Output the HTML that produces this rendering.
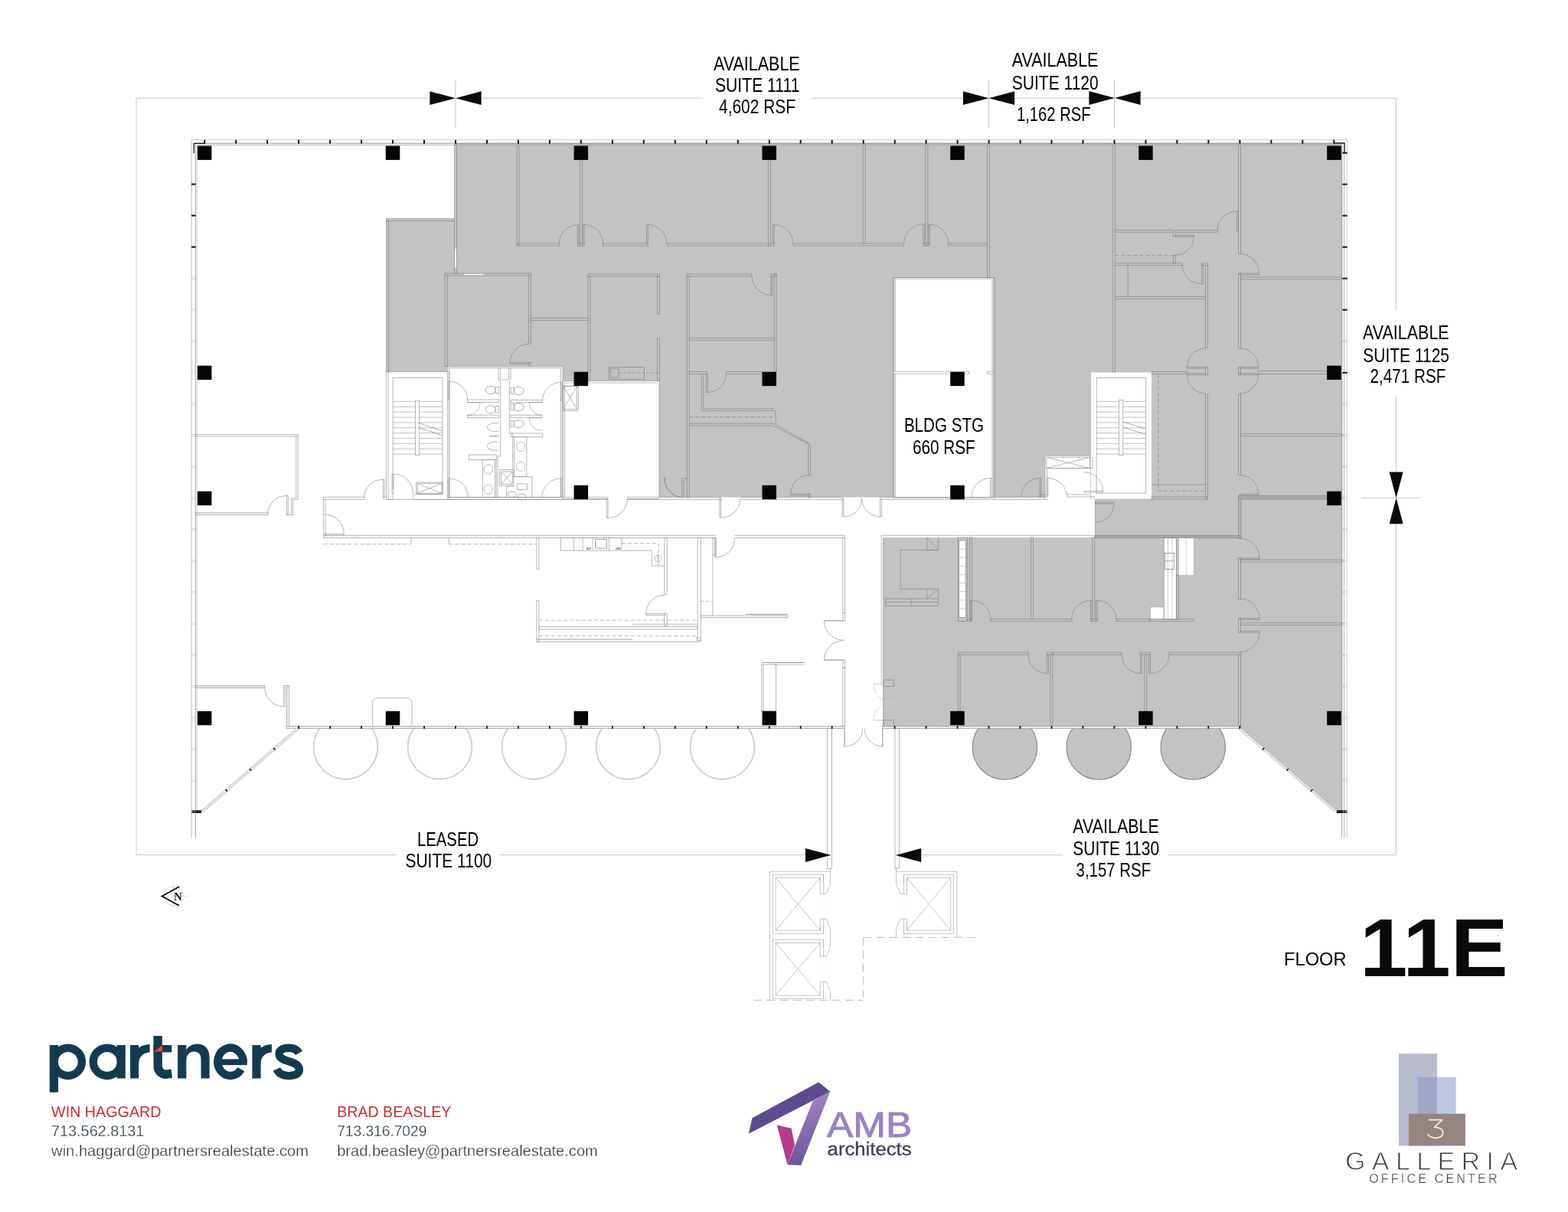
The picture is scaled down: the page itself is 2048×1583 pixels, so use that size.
<!DOCTYPE html>
<html><head><meta charset="utf-8"><title>Floor 11E</title>
<style>
html,body{margin:0;padding:0;background:#fff;}
body{width:2048px;height:1583px;overflow:hidden;font-family:"Liberation Sans",sans-serif;}
svg{display:block;}
</style></head><body>
<svg width="2048" height="1583" viewBox="0 0 2048 1583">
<rect width="2048" height="1583" fill="#fff"/>
<clipPath id="ca"><rect x="0" y="0" width="2048" height="948.5"/></clipPath>
<g opacity="0.999">
<path d="M594 186.8L1753.2 186.8L1753.2 1058.4L1745 1058.4L1619.2 949.4L1153.8 949.4L1153.8 702L1430.5 702L1430.5 652L1504.6 652L1504.6 486L1424.7 486L1424.7 595.2L1365 595.2L1365 649.5L1296.5 649.5L1296.5 363.6L1168.6 363.6L1168.6 649.5L861 649.5L861 497.4L734.7 497.4L734.7 478.8L584 478.8L584 485.6L505 485.6L505 286L594 286Z" stroke="none" stroke-width="0" fill="#c3c3c3"/>
<clipPath id="cb"><rect x="0" y="950.5" width="2048" height="200"/></clipPath>
<circle cx="1312.4" cy="975.9" r="42.2" fill="#c3c3c3" stroke="#8a8a8a" stroke-width="1.2" clip-path="url(#cb)"/>
<circle cx="1435.3" cy="975.9" r="42.2" fill="#c3c3c3" stroke="#8a8a8a" stroke-width="1.2" clip-path="url(#cb)"/>
<circle cx="1558.3" cy="975.9" r="42.2" fill="#c3c3c3" stroke="#8a8a8a" stroke-width="1.2" clip-path="url(#cb)"/>
<circle cx="451.4" cy="975.8" r="41.9" fill="none" stroke="#d0d0d0" stroke-width="1.9" clip-path="url(#cb)"/>
<circle cx="574.5" cy="975.8" r="41.9" fill="none" stroke="#d0d0d0" stroke-width="1.9" clip-path="url(#cb)"/>
<circle cx="697.5" cy="975.8" r="41.9" fill="none" stroke="#d0d0d0" stroke-width="1.9" clip-path="url(#cb)"/>
<circle cx="820.5" cy="975.8" r="41.9" fill="none" stroke="#d0d0d0" stroke-width="1.9" clip-path="url(#cb)"/>
<circle cx="943.5" cy="975.8" r="41.9" fill="none" stroke="#d0d0d0" stroke-width="1.9" clip-path="url(#cb)"/>
<rect x="1252.6" y="706" width="8.8" height="100.5" fill="#fff"/>
<rect x="1520.1" y="702.7" width="16.3" height="106.3" fill="#fff"/>
<rect x="1539.3" y="702.7" width="20" height="49" fill="#fff"/>
<rect x="1502.5" y="792.8" width="17.6" height="16.2" fill="#fff"/>
<rect x="593.8" y="324.8" width="2.6" height="24.5" fill="#fff"/>
<rect x="606.5" y="357.4" width="24.9" height="2.4" fill="#fff"/>
<rect x="504.5" y="485.7" width="82.3" height="166.7" fill="none" stroke="#989898" stroke-width="0.7"/>
<path d="M507.2 485.7L507.2 652.4" stroke="#989898" stroke-width="0.7" fill="none"/>
<rect x="513.1" y="493.3" width="64.9" height="152" fill="none" stroke="#989898" stroke-width="0.7"/>
<path d="M513.1 524.4L542.6 524.4" stroke="#989898" stroke-width="0.6" fill="none"/>
<path d="M547.7 524.4L578 524.4" stroke="#989898" stroke-width="0.6" fill="none"/>
<path d="M513.1 531.3L542.6 531.3" stroke="#989898" stroke-width="0.6" fill="none"/>
<path d="M547.7 531.3L578 531.3" stroke="#989898" stroke-width="0.6" fill="none"/>
<path d="M513.1 538.1L542.6 538.1" stroke="#989898" stroke-width="0.6" fill="none"/>
<path d="M547.7 538.1L578 538.1" stroke="#989898" stroke-width="0.6" fill="none"/>
<path d="M513.1 545L542.6 545" stroke="#989898" stroke-width="0.6" fill="none"/>
<path d="M547.7 545L578 545" stroke="#989898" stroke-width="0.6" fill="none"/>
<path d="M513.1 551.9L542.6 551.9" stroke="#989898" stroke-width="0.6" fill="none"/>
<path d="M547.7 551.9L578 551.9" stroke="#989898" stroke-width="0.6" fill="none"/>
<path d="M513.1 558.8L542.6 558.8" stroke="#989898" stroke-width="0.6" fill="none"/>
<path d="M547.7 558.8L578 558.8" stroke="#989898" stroke-width="0.6" fill="none"/>
<path d="M513.1 565.6L542.6 565.6" stroke="#989898" stroke-width="0.6" fill="none"/>
<path d="M547.7 565.6L578 565.6" stroke="#989898" stroke-width="0.6" fill="none"/>
<path d="M513.1 572.5L542.6 572.5" stroke="#989898" stroke-width="0.6" fill="none"/>
<path d="M547.7 572.5L578 572.5" stroke="#989898" stroke-width="0.6" fill="none"/>
<path d="M513.1 579.4L542.6 579.4" stroke="#989898" stroke-width="0.6" fill="none"/>
<path d="M547.7 579.4L578 579.4" stroke="#989898" stroke-width="0.6" fill="none"/>
<path d="M513.1 586.2L542.6 586.2" stroke="#989898" stroke-width="0.6" fill="none"/>
<path d="M547.7 586.2L578 586.2" stroke="#989898" stroke-width="0.6" fill="none"/>
<path d="M513.1 593.1L542.6 593.1" stroke="#989898" stroke-width="0.6" fill="none"/>
<path d="M547.7 593.1L578 593.1" stroke="#989898" stroke-width="0.6" fill="none"/>
<rect x="542.6" y="523.2" width="5.1" height="71.4" fill="#fff" stroke="#989898" stroke-width="0.7"/>
<path d="M545.7 551.9L578 562.9" stroke="#989898" stroke-width="0.8" fill="none"/>
<path d="M545.7 558L578 569" stroke="#989898" stroke-width="0.8" fill="none"/>
<rect x="545" y="631.5" width="32" height="12.7" fill="none" stroke="#989898" stroke-width="0.7"/>
<path d="M545 631.5L577 644.2" stroke="#989898" stroke-width="0.7" fill="none"/>
<path d="M545 644.2L577 631.5" stroke="#989898" stroke-width="0.7" fill="none"/>
<rect x="543.8" y="630" width="34.2" height="15.3" fill="none" stroke="#989898" stroke-width="0.7"/>
<rect x="512" y="640" width="29" height="13.2" fill="#fff"/>
<path d="M513.8 644.7L513.8 619.1L512 619.1L512 644.7Z" stroke="#989898" stroke-width="0.7" fill="none"/>
<path d="M513.8 619.1A25.6 25.6 0 0 1 539.4 644.7" stroke="#989898" stroke-width="0.7" fill="none"/>
<path d="M513.1 644.7L513.1 652.4" stroke="#989898" stroke-width="0.7" fill="none"/>
<path d="M539.6 645.3L539.6 652.4" stroke="#989898" stroke-width="0.7" fill="none"/>
<rect x="584.7" y="478.7" width="150.5" height="173.7" fill="none" stroke="#989898" stroke-width="0.7"/>
<rect x="586.8" y="480.5" width="145.6" height="169.1" fill="none" stroke="#989898" stroke-width="0.7"/>
<path d="M651.2 480.5L651.2 497L653.7 498.8L653.7 595.8L650 595.8L650 649.6" stroke="#989898" stroke-width="0.7" fill="none"/>
<path d="M667.1 480.5L667.1 497L665.3 498.8L665.3 566L669.6 566L669.6 613.5" stroke="#989898" stroke-width="0.7" fill="none"/>
<path d="M653.7 480.5L653.7 496L664.7 496L664.7 480.5" stroke="#989898" stroke-width="0.7" fill="none"/>
<path d="M648.2 600.7L648.2 649.6" stroke="#989898" stroke-width="0.7" fill="none"/>
<ellipse cx="640.9" cy="509.4" rx="6.7" ry="5.1" fill="none" stroke="#8a8a8a" stroke-width="0.7"/>
<rect x="647" y="505.2" width="4.2" height="8.4" fill="none" stroke="#989898" stroke-width="0.7"/>
<ellipse cx="640.9" cy="534.8" rx="6.7" ry="5.1" fill="none" stroke="#8a8a8a" stroke-width="0.7"/>
<rect x="647" y="530.6" width="4.2" height="8.4" fill="none" stroke="#989898" stroke-width="0.7"/>
<ellipse cx="677.5" cy="510.4" rx="6.7" ry="5.1" fill="none" stroke="#8a8a8a" stroke-width="0.7"/>
<rect x="667.1" y="506.2" width="4.1" height="8.4" fill="none" stroke="#989898" stroke-width="0.7"/>
<ellipse cx="677.5" cy="531.8" rx="6.7" ry="5.1" fill="none" stroke="#8a8a8a" stroke-width="0.7"/>
<rect x="667.1" y="527.6" width="4.1" height="8.4" fill="none" stroke="#989898" stroke-width="0.7"/>
<ellipse cx="677.5" cy="553.7" rx="6.7" ry="5.1" fill="none" stroke="#8a8a8a" stroke-width="0.7"/>
<rect x="667.1" y="549.5" width="4.1" height="8.4" fill="none" stroke="#989898" stroke-width="0.7"/>
<path d="M651.2 552.5 H646 C640 552.5 636.5 555.5 636.5 558 C636.5 560.5 640 563.5 646 563.5 H651.2" fill="none" stroke="#989898" stroke-width="0.7"/>
<path d="M651.2 577.2 H646 C640 577.2 636.5 580.2 636.5 582.7 C636.5 585.2 640 588.2 646 588.2 H651.2" fill="none" stroke="#989898" stroke-width="0.7"/>
<path d="M639 569.6L651.2 569.6" stroke="#989898" stroke-width="1.1" fill="none"/>
<rect x="610.4" y="522" width="40.8" height="3.6" fill="none" stroke="#989898" stroke-width="0.7"/>
<rect x="610.4" y="542.1" width="40.8" height="3.6" fill="none" stroke="#989898" stroke-width="0.7"/>
<rect x="667.1" y="522.6" width="40.9" height="3.2" fill="none" stroke="#989898" stroke-width="0.7"/>
<rect x="667.1" y="542.1" width="40.9" height="3.2" fill="none" stroke="#989898" stroke-width="0.7"/>
<rect x="667.1" y="566" width="41.5" height="4.8" fill="none" stroke="#989898" stroke-width="0.7"/>
<path d="M610.4 525.7L627.2 525.7L627.2 525.7L610.4 525.7Z" stroke="#989898" stroke-width="0.6" fill="none"/>
<path d="M627.2 525.7A16.8 16.8 0 0 1 610.4 542.5" stroke="#989898" stroke-width="0.6" fill="none"/>
<path d="M708 525.5L691.2 525.5L691.2 525.5L708 525.5Z" stroke="#989898" stroke-width="0.6" fill="none"/>
<path d="M691.2 525.5A16.8 16.8 0 0 0 708 542.3" stroke="#989898" stroke-width="0.6" fill="none"/>
<path d="M708 545.6L691.2 545.6L691.2 545.6L708 545.6Z" stroke="#989898" stroke-width="0.6" fill="none"/>
<path d="M691.2 545.6A16.8 16.8 0 0 0 708 562.4" stroke="#989898" stroke-width="0.6" fill="none"/>
<rect x="612.2" y="594" width="36" height="6.7" fill="none" stroke="#989898" stroke-width="0.7"/>
<rect x="630.3" y="600.7" width="16.1" height="48.9" fill="none" stroke="#989898" stroke-width="0.7"/>
<ellipse cx="637.8" cy="612.9" rx="5.7" ry="6.2" fill="none" stroke="#8a8a8a" stroke-width="0.6"/>
<ellipse cx="637.8" cy="639.2" rx="5.7" ry="6.2" fill="none" stroke="#8a8a8a" stroke-width="0.6"/>
<rect x="671.4" y="570.8" width="16.5" height="51.9" fill="none" stroke="#989898" stroke-width="0.7"/>
<ellipse cx="680.2" cy="583.4" rx="5.6" ry="6.3" fill="none" stroke="#8a8a8a" stroke-width="0.6"/>
<ellipse cx="680.2" cy="609.3" rx="5.6" ry="6.3" fill="none" stroke="#8a8a8a" stroke-width="0.6"/>
<rect x="652.5" y="613.5" width="18.3" height="21.4" fill="none" stroke="#989898" stroke-width="0.7"/>
<rect x="654.7" y="616" width="14.6" height="16.5" fill="none" stroke="#989898" stroke-width="0.7"/>
<path d="M654.7 616L669.3 632.5" stroke="#989898" stroke-width="0.7" fill="none"/>
<path d="M654.7 632.5L669.3 616" stroke="#989898" stroke-width="0.7" fill="none"/>
<path d="M671.4 622.7L695 622.7L695 649.6" stroke="#989898" stroke-width="0.7" fill="none"/>
<path d="M670.8 634.9L661.5 634.9L661.5 649.6" stroke="#989898" stroke-width="0.7" fill="none"/>
<rect x="675.7" y="631.9" width="12.8" height="7.9" fill="none" stroke="#989898" stroke-width="0.7"/>
<ellipse cx="668.9" cy="645.7" rx="5.6" ry="3.9" fill="none" stroke="#8a8a8a" stroke-width="0.7"/>
<ellipse cx="681.8" cy="649" rx="5.6" ry="3.9" fill="none" stroke="#8a8a8a" stroke-width="0.7"/>
<path d="M586.8 522L586.8 498.2L585 498.2L585 522Z" stroke="#989898" stroke-width="0.7" fill="none"/>
<path d="M586.8 498.2A23.8 23.8 0 0 1 610.6 522" stroke="#989898" stroke-width="0.7" fill="none"/>
<path d="M732.4 523.2L732.4 499.4L734.2 499.4L734.2 523.2Z" stroke="#989898" stroke-width="0.7" fill="none"/>
<path d="M732.4 499.4A23.8 23.8 0 0 0 708.6 523.2" stroke="#989898" stroke-width="0.7" fill="none"/>
<path d="M586.8 649.6L586.8 625L585 625L585 649.6Z" stroke="#989898" stroke-width="0.7" fill="none"/>
<path d="M586.8 625A24.6 24.6 0 0 1 611.4 649.6" stroke="#989898" stroke-width="0.7" fill="none"/>
<path d="M732.4 649.6L732.4 625L734.2 625L734.2 649.6Z" stroke="#989898" stroke-width="0.7" fill="none"/>
<path d="M732.4 625A24.6 24.6 0 0 0 707.8 649.6" stroke="#989898" stroke-width="0.7" fill="none"/>
<rect x="734.7" y="497.4" width="126.3" height="154.2" fill="none" stroke="#989898" stroke-width="0.7"/>
<path d="M737.5 500L858.5 500" stroke="#989898" stroke-width="0.7" fill="none"/>
<path d="M737.5 500L737.5 649" stroke="#989898" stroke-width="0.7" fill="none"/>
<rect x="735.7" y="504.2" width="17.8" height="30.3" fill="none" stroke="#989898" stroke-width="0.7"/>
<path d="M735.7 504.2L753.5 534.5" stroke="#989898" stroke-width="0.7" fill="none"/>
<path d="M735.7 534.5L753.5 504.2" stroke="#989898" stroke-width="0.7" fill="none"/>
<rect x="735.7" y="504.2" width="19.6" height="32.3" fill="none" stroke="#989898" stroke-width="0.7"/>
<rect x="794" y="649" width="25" height="4" fill="#fff"/>
<path d="M794 651L794 676.5L792.2 676.5L792.2 651Z" stroke="#989898" stroke-width="0.7" fill="none"/>
<path d="M794 676.5A25.5 25.5 0 0 0 819.5 651" stroke="#989898" stroke-width="0.7" fill="none"/>
<path d="M868 624.6A26 26 0 0 0 890 650" stroke="#858585" stroke-width="0.7" fill="none"/>
<path d="M422.4 649.2L476.4 649.2" stroke="#989898" stroke-width="0.7" fill="none"/>
<path d="M422.4 652.4L476.4 652.4" stroke="#989898" stroke-width="0.7" fill="none"/>
<path d="M500.3 649.2L504.7 649.2" stroke="#989898" stroke-width="0.7" fill="none"/>
<path d="M500.3 651.2L500.3 626.2L502.1 626.2L502.1 651.2Z" stroke="#989898" stroke-width="0.7" fill="none"/>
<path d="M500.3 626.2A25 25 0 0 0 475.3 651.2" stroke="#989898" stroke-width="0.7" fill="none"/>
<path d="M422.4 649.2L422.4 703" stroke="#989898" stroke-width="0.7" fill="none"/>
<path d="M425 652.4L425 700" stroke="#989898" stroke-width="0.7" fill="none"/>
<path d="M423.9 697.2L449.2 697.2L449.2 699L423.9 699Z" stroke="#989898" stroke-width="0.7" fill="none"/>
<path d="M449.2 697.2A25.3 25.3 0 0 0 423.9 671.9" stroke="#989898" stroke-width="0.7" fill="none"/>
<path d="M586 649.4L794 649.4" stroke="#989898" stroke-width="0.7" fill="none"/>
<path d="M819 649.4L941.7 649.4" stroke="#989898" stroke-width="0.7" fill="none"/>
<path d="M966.5 649.4L1101.8 649.4" stroke="#989898" stroke-width="0.7" fill="none"/>
<path d="M1149.6 649.4L1293.5 649.4" stroke="#989898" stroke-width="0.7" fill="none"/>
<path d="M1299 649.4L1358 649.4" stroke="#989898" stroke-width="0.7" fill="none"/>
<path d="M504.7 652.4L794 652.4" stroke="#989898" stroke-width="0.7" fill="none"/>
<path d="M819 652.4L941.7 652.4" stroke="#989898" stroke-width="0.7" fill="none"/>
<path d="M966.5 652.4L1101.8 652.4" stroke="#989898" stroke-width="0.7" fill="none"/>
<path d="M1149.6 652.4L1368.9 652.4" stroke="#989898" stroke-width="0.7" fill="none"/>
<path d="M941.7 651L941.7 676.2L939.9 676.2L939.9 651Z" stroke="#989898" stroke-width="0.7" fill="none"/>
<path d="M941.7 676.2A25.2 25.2 0 0 0 966.9 651" stroke="#989898" stroke-width="0.7" fill="none"/>
<path d="M1101.8 651L1101.8 675L1100 675L1100 651Z" stroke="#989898" stroke-width="0.7" fill="none"/>
<path d="M1101.8 675A24 24 0 0 0 1125.8 651" stroke="#989898" stroke-width="0.7" fill="none"/>
<path d="M1149.6 651L1149.6 675L1151.4 675L1151.4 651Z" stroke="#989898" stroke-width="0.7" fill="none"/>
<path d="M1149.6 675A24 24 0 0 1 1125.6 651" stroke="#989898" stroke-width="0.7" fill="none"/>
<path d="M422.4 699.2L934.8 699.2" stroke="#989898" stroke-width="0.7" fill="none"/>
<path d="M422.4 702.5L934.8 702.5" stroke="#989898" stroke-width="0.7" fill="none"/>
<path d="M959.3 699.2L1103.2 699.2" stroke="#989898" stroke-width="0.7" fill="none"/>
<path d="M959.3 702.5L1103.2 702.5" stroke="#989898" stroke-width="0.7" fill="none"/>
<path d="M1103.2 699.2L1103.2 702.5" stroke="#989898" stroke-width="0.7" fill="none"/>
<path d="M1293.5 649L1293.5 624.5L1295.3 624.5L1295.3 649Z" stroke="#989898" stroke-width="0.7" fill="none"/>
<path d="M1293.5 624.5A24.5 24.5 0 0 0 1269 649" stroke="#989898" stroke-width="0.7" fill="none"/>
<rect x="1424.7" y="486" width="79.9" height="166" fill="none" stroke="#bbb" stroke-width="0.7"/>
<rect x="1432.1" y="493.4" width="64.6" height="150.7" fill="none" stroke="#989898" stroke-width="0.7"/>
<path d="M1432.1 524.4L1461.5 524.4" stroke="#989898" stroke-width="0.6" fill="none"/>
<path d="M1466.8 524.4L1496.7 524.4" stroke="#989898" stroke-width="0.6" fill="none"/>
<path d="M1432.1 531.3L1461.5 531.3" stroke="#989898" stroke-width="0.6" fill="none"/>
<path d="M1466.8 531.3L1496.7 531.3" stroke="#989898" stroke-width="0.6" fill="none"/>
<path d="M1432.1 538.1L1461.5 538.1" stroke="#989898" stroke-width="0.6" fill="none"/>
<path d="M1466.8 538.1L1496.7 538.1" stroke="#989898" stroke-width="0.6" fill="none"/>
<path d="M1432.1 545L1461.5 545" stroke="#989898" stroke-width="0.6" fill="none"/>
<path d="M1466.8 545L1496.7 545" stroke="#989898" stroke-width="0.6" fill="none"/>
<path d="M1432.1 551.9L1461.5 551.9" stroke="#989898" stroke-width="0.6" fill="none"/>
<path d="M1466.8 551.9L1496.7 551.9" stroke="#989898" stroke-width="0.6" fill="none"/>
<path d="M1432.1 558.8L1461.5 558.8" stroke="#989898" stroke-width="0.6" fill="none"/>
<path d="M1466.8 558.8L1496.7 558.8" stroke="#989898" stroke-width="0.6" fill="none"/>
<path d="M1432.1 565.6L1461.5 565.6" stroke="#989898" stroke-width="0.6" fill="none"/>
<path d="M1466.8 565.6L1496.7 565.6" stroke="#989898" stroke-width="0.6" fill="none"/>
<path d="M1432.1 572.5L1461.5 572.5" stroke="#989898" stroke-width="0.6" fill="none"/>
<path d="M1466.8 572.5L1496.7 572.5" stroke="#989898" stroke-width="0.6" fill="none"/>
<path d="M1432.1 579.4L1461.5 579.4" stroke="#989898" stroke-width="0.6" fill="none"/>
<path d="M1466.8 579.4L1496.7 579.4" stroke="#989898" stroke-width="0.6" fill="none"/>
<path d="M1432.1 586.2L1461.5 586.2" stroke="#989898" stroke-width="0.6" fill="none"/>
<path d="M1466.8 586.2L1496.7 586.2" stroke="#989898" stroke-width="0.6" fill="none"/>
<path d="M1432.1 593.1L1461.5 593.1" stroke="#989898" stroke-width="0.6" fill="none"/>
<path d="M1466.8 593.1L1496.7 593.1" stroke="#989898" stroke-width="0.6" fill="none"/>
<rect x="1461.5" y="522.5" width="5.3" height="72" fill="#fff" stroke="#989898" stroke-width="0.7"/>
<path d="M1466.8 551L1496 560" stroke="#989898" stroke-width="0.8" fill="none"/>
<path d="M1466.8 558L1496 567" stroke="#989898" stroke-width="0.8" fill="none"/>
<path d="M1365 652L1365 595.2L1424.7 595.2" stroke="#989898" stroke-width="0.7" fill="none"/>
<path d="M1367.5 649L1367.5 611.5L1427 611.5L1427 597.5" stroke="#989898" stroke-width="0.7" fill="none"/>
<rect x="1366.9" y="597.2" width="56.8" height="14.3" fill="none" stroke="#989898" stroke-width="0.7"/>
<path d="M1366.9 597.2L1423.7 611.5" stroke="#989898" stroke-width="0.7" fill="none"/>
<path d="M1366.9 611.5L1423.7 597.2" stroke="#989898" stroke-width="0.7" fill="none"/>
<path d="M1368.9 649L1368.9 624.5L1367.1 624.5L1367.1 649Z" stroke="#989898" stroke-width="0.7" fill="none"/>
<path d="M1368.9 624.5A24.5 24.5 0 0 1 1393.4 649" stroke="#989898" stroke-width="0.7" fill="none"/>
<path d="M1415.9 641.2L1440.4 641.2L1440.4 643L1415.9 643Z" stroke="#989898" stroke-width="0.7" fill="none"/>
<path d="M1440.4 641.2A24.5 24.5 0 0 0 1415.9 616.7" stroke="#989898" stroke-width="0.7" fill="none"/>
<path d="M1393 646L1424 646" stroke="#989898" stroke-width="0.7" fill="none"/>
<path d="M1393 649L1430.5 649" stroke="#989898" stroke-width="0.7" fill="none"/>
<path d="M1430.5 652L1430.5 702" stroke="#989898" stroke-width="0.7" fill="none"/>
<rect x="255.3" y="567.5" width="133.9" height="2.5" fill="none" stroke="#989898" stroke-width="0.7"/>
<path d="M386.8 570L386.8 650L380.5 650L380.5 672.5" stroke="#989898" stroke-width="0.7" fill="none"/>
<path d="M389.2 570L389.2 652.4L382.6 652.4L382.6 672.5L374.5 672.5" stroke="#989898" stroke-width="0.7" fill="none"/>
<path d="M374.5 672.4L374.5 647.4L376.3 647.4L376.3 672.4Z" stroke="#989898" stroke-width="0.7" fill="none"/>
<path d="M374.5 647.4A25 25 0 0 0 349.5 672.4" stroke="#989898" stroke-width="0.7" fill="none"/>
<rect x="255.3" y="669.8" width="94.7" height="2.8" fill="#ececec" stroke="#989898" stroke-width="0.7"/>
<rect x="255.3" y="895.3" width="90.3" height="3" fill="#ececec" stroke="#989898" stroke-width="0.7"/>
<path d="M370.6 898.1L370.6 922.8L372.4 922.8L372.4 898.1Z" stroke="#989898" stroke-width="0.7" fill="none"/>
<path d="M370.6 922.8A24.7 24.7 0 0 1 345.9 898.1" stroke="#989898" stroke-width="0.7" fill="none"/>
<rect x="374.5" y="895.3" width="3.4" height="54.9" fill="#ececec" stroke="#989898" stroke-width="0.7"/>
<path d="M370.4 898.3L370.4 895.3L374.5 895.3" stroke="#989898" stroke-width="0.7" fill="none"/>
<path d="M422.4 710.7L537 710.7" stroke="#989898" stroke-width="0.7" fill="none" stroke-dasharray="5 3"/>
<path d="M537 702.5L537 710.7" stroke="#989898" stroke-width="0.7" fill="none"/>
<path d="M586.5 710.7L700 710.7" stroke="#989898" stroke-width="0.7" fill="none" stroke-dasharray="5 3"/>
<path d="M586.5 702.5L586.5 710.7" stroke="#989898" stroke-width="0.7" fill="none"/>
<rect x="700.9" y="702.5" width="3" height="41" fill="none" stroke="#989898" stroke-width="0.7"/>
<rect x="700.9" y="784.5" width="3" height="53.7" fill="none" stroke="#989898" stroke-width="0.7"/>
<path d="M703.9 810.1L911 810.1" stroke="#989898" stroke-width="0.7" fill="none" stroke-dasharray="5 3"/>
<rect x="703.9" y="818.7" width="207.1" height="3.3" fill="none" stroke="#989898" stroke-width="0.7"/>
<path d="M703.9 830.6L911 830.6" stroke="#989898" stroke-width="0.7" fill="none" stroke-dasharray="5 3"/>
<path d="M700.9 835L826 835" stroke="#989898" stroke-width="1.0" fill="none"/>
<path d="M700.9 838.2L911 838.2" stroke="#989898" stroke-width="0.7" fill="none"/>
<rect x="732.4" y="702.5" width="79.6" height="16.6" fill="none" stroke="#989898" stroke-width="0.7"/>
<path d="M749.4 702.5L749.4 719.1" stroke="#989898" stroke-width="0.7" fill="none"/>
<path d="M761.2 702.5L761.2 719.1" stroke="#989898" stroke-width="0.7" fill="none"/>
<path d="M774.3 702.5L774.3 719.1" stroke="#989898" stroke-width="0.7" fill="none"/>
<path d="M795.5 702.5L795.5 719.1" stroke="#989898" stroke-width="0.7" fill="none"/>
<rect x="777.4" y="704.3" width="15.1" height="11.7" fill="none" stroke="#666" stroke-width="0.6"/>
<text x="768.8" y="718.3" font-size="5" text-anchor="middle" fill="#333" font-weight="normal" font-family="Liberation Sans, sans-serif">ice</text>
<text x="807.5" y="717.6" font-size="5" text-anchor="middle" fill="#333" font-weight="normal" font-family="Liberation Sans, sans-serif">dw</text>
<path d="M812 719.1L851.2 719.1L851.2 739.1L867.9 739.1" stroke="#989898" stroke-width="0.7" fill="none"/>
<path d="M812 709.7L860 709.7L860 739.1" stroke="#989898" stroke-width="0.7" fill="none" stroke-dasharray="5 3"/>
<circle cx="859.6" cy="729.3" r="4.3" fill="none" stroke="#989898" stroke-width="0.7"/>
<path d="M859.6 725L859.6 733.6" stroke="#989898" stroke-width="0.7" fill="none"/>
<rect x="867.9" y="702.5" width="3.2" height="74.1" fill="none" stroke="#989898" stroke-width="0.7"/>
<path d="M868.4 801.6L843.8 801.6L843.8 803.4L868.4 803.4Z" stroke="#989898" stroke-width="0.7" fill="none"/>
<path d="M843.8 801.6A24.6 24.6 0 0 1 868.4 777" stroke="#989898" stroke-width="0.7" fill="none"/>
<rect x="867.9" y="801.6" width="3.2" height="16.1" fill="none" stroke="#989898" stroke-width="0.7"/>
<path d="M826 815.2L911 815.2" stroke="#989898" stroke-width="0.7" fill="none"/>
<rect x="911.1" y="702.5" width="4.1" height="133.9" fill="none" stroke="#989898" stroke-width="0.7"/>
<rect x="910" y="833" width="5.2" height="5.2" fill="none" stroke="#989898" stroke-width="0.7"/>
<rect x="930.9" y="702.5" width="4.1" height="22.5" fill="none" stroke="#989898" stroke-width="0.7"/>
<path d="M935 703.2L935 727.8L933.2 727.8L933.2 703.2Z" stroke="#989898" stroke-width="0.7" fill="none"/>
<path d="M935 727.8A24.6 24.6 0 0 0 959.6 703.2" stroke="#989898" stroke-width="0.7" fill="none"/>
<path d="M930.9 725L930.9 804" stroke="#989898" stroke-width="0.7" fill="none"/>
<rect x="915.2" y="804" width="113.8" height="2.7" fill="none" stroke="#989898" stroke-width="0.7"/>
<path d="M915.2 785.3L930.9 785.3" stroke="#989898" stroke-width="0.7" fill="none" stroke-dasharray="4 3"/>
<path d="M974 802.3L1029 802.3" stroke="#989898" stroke-width="1.0" fill="none"/>
<rect x="1100.8" y="702.5" width="2.7" height="98" fill="none" stroke="#989898" stroke-width="0.7"/>
<rect x="1101" y="800.5" width="2.8" height="10.3" fill="none" stroke="#989898" stroke-width="0.7"/>
<path d="M1101.8 810.8L1076.4 810.8L1076.4 810.8L1101.8 810.8Z" stroke="#989898" stroke-width="0.7" fill="none"/>
<path d="M1076.4 810.8A25.4 25.4 0 0 0 1101.8 836.2" stroke="#989898" stroke-width="0.7" fill="none"/>
<path d="M1101.8 862L1076.4 862L1076.4 862L1101.8 862Z" stroke="#989898" stroke-width="0.7" fill="none"/>
<path d="M1076.4 862A25.4 25.4 0 0 1 1101.8 836.6" stroke="#989898" stroke-width="0.7" fill="none"/>
<rect x="1101" y="862" width="2.8" height="10" fill="none" stroke="#989898" stroke-width="0.7"/>
<rect x="1100.8" y="872" width="2.7" height="76.5" fill="none" stroke="#989898" stroke-width="0.7"/>
<rect x="994.8" y="867.9" width="18.8" height="61" fill="none" stroke="#989898" stroke-width="0.7"/>
<path d="M997 867.9L997 928.9" stroke="#989898" stroke-width="0.7" fill="none"/>
<path d="M994.8 865.5L1051 865.5" stroke="#989898" stroke-width="1.0" fill="none"/>
<path d="M1010 868L1051 868" stroke="#989898" stroke-width="0.6" fill="none"/>
<rect x="486.6" y="911.8" width="51.3" height="45" rx="6" fill="none" stroke="#989898" stroke-width="0.7" clip-path="url(#ca)"/>
<rect x="1080.3" y="951.5" width="6.1" height="182.7" fill="none" stroke="#989898" stroke-width="0.7"/>
<rect x="1169" y="951.5" width="5.3" height="182.7" fill="none" stroke="#989898" stroke-width="0.7"/>
<path d="M1103.1 951.5L1103.1 975L1103.1 975L1103.1 951.5Z" stroke="#989898" stroke-width="0.7" fill="none"/>
<path d="M1103.1 975A23.5 23.5 0 0 0 1126.6 951.5" stroke="#989898" stroke-width="0.7" fill="none"/>
<path d="M1152.8 951.5L1152.8 975L1152.8 975L1152.8 951.5Z" stroke="#989898" stroke-width="0.7" fill="none"/>
<path d="M1152.8 975A23.5 23.5 0 0 1 1129.3 951.5" stroke="#989898" stroke-width="0.7" fill="none"/>
<path d="M1084.5 1138.3L1005.4 1138.3L1005.4 1306.8" stroke="#adadad" stroke-width="0.7" fill="none"/>
<rect x="1009.3" y="1142.3" width="66.4" height="77" fill="none" stroke="#adadad" stroke-width="0.7"/>
<rect x="1013.1" y="1146.4" width="58.2" height="68.8" fill="none" stroke="#adadad" stroke-width="0.7"/>
<path d="M1013.1 1146.4L1071.3 1215.2" stroke="#adadad" stroke-width="0.7" fill="none"/>
<path d="M1013.1 1215.2L1071.3 1146.4" stroke="#adadad" stroke-width="0.7" fill="none"/>
<rect x="1071" y="1152.3" width="5" height="57" fill="#fff"/>
<path d="M1071.3 1146.4L1071.3 1167.2L1079.4 1167.2L1084.5 1154.4" stroke="#adadad" stroke-width="0.7" fill="none"/>
<path d="M1075.7 1142.3L1075.7 1167.2" stroke="#adadad" stroke-width="0.7" fill="none"/>
<path d="M1071.3 1215.2L1071.3 1200.3L1079.4 1200.3L1084.5 1213.7" stroke="#adadad" stroke-width="0.7" fill="none"/>
<path d="M1075.7 1219.3L1075.7 1200.3" stroke="#adadad" stroke-width="0.7" fill="none"/>
<rect x="1009.3" y="1227.2" width="66.4" height="77" fill="none" stroke="#adadad" stroke-width="0.7"/>
<rect x="1013.1" y="1231.3" width="58.2" height="68.8" fill="none" stroke="#adadad" stroke-width="0.7"/>
<path d="M1013.1 1231.3L1071.3 1300.1" stroke="#adadad" stroke-width="0.7" fill="none"/>
<path d="M1013.1 1300.1L1071.3 1231.3" stroke="#adadad" stroke-width="0.7" fill="none"/>
<rect x="1071" y="1237.2" width="5" height="57" fill="#fff"/>
<path d="M1071.3 1231.3L1071.3 1249.2L1079.4 1249.2L1084.5 1236.4" stroke="#adadad" stroke-width="0.7" fill="none"/>
<path d="M1075.7 1227.2L1075.7 1249.2" stroke="#adadad" stroke-width="0.7" fill="none"/>
<path d="M1071.3 1300.1L1071.3 1282.3L1079.4 1282.3L1084.5 1295.7" stroke="#adadad" stroke-width="0.7" fill="none"/>
<path d="M1075.7 1304.2L1075.7 1282.3" stroke="#adadad" stroke-width="0.7" fill="none"/>
<path d="M1084.5 1134L1084.5 1154.4" stroke="#adadad" stroke-width="0.7" fill="none"/>
<path d="M1084.5 1213.7L1084.5 1236.4" stroke="#adadad" stroke-width="0.7" fill="none"/>
<path d="M1084.5 1295.7L1084.5 1306.8" stroke="#adadad" stroke-width="0.7" fill="none"/>
<path d="M1169.9 1138.3L1250 1138.3L1250 1224.3" stroke="#adadad" stroke-width="0.7" fill="none"/>
<rect x="1180.4" y="1142.3" width="65.2" height="77" fill="none" stroke="#adadad" stroke-width="0.7"/>
<rect x="1184.5" y="1146.4" width="57.2" height="68.8" fill="none" stroke="#adadad" stroke-width="0.7"/>
<path d="M1184.5 1146.4L1241.7 1215.2" stroke="#adadad" stroke-width="0.7" fill="none"/>
<path d="M1184.5 1215.2L1241.7 1146.4" stroke="#adadad" stroke-width="0.7" fill="none"/>
<rect x="1180.1" y="1152.3" width="4.9" height="57" fill="#fff"/>
<path d="M1184.5 1146.4L1184.5 1167.2L1176 1167.2L1170.5 1154.4L1170.5 1134" stroke="#adadad" stroke-width="0.7" fill="none"/>
<path d="M1180.4 1142.3L1180.4 1167.2" stroke="#adadad" stroke-width="0.7" fill="none"/>
<path d="M1184.5 1215.2L1184.5 1200.3L1176 1200.3L1170.5 1213.7L1170.5 1224.3" stroke="#adadad" stroke-width="0.7" fill="none"/>
<path d="M1180.4 1219.3L1180.4 1200.3" stroke="#adadad" stroke-width="0.7" fill="none"/>
<path d="M1127.4 1224.4L1275.6 1224.4" stroke="#b4b4b4" stroke-width="0.9" fill="none" stroke-dasharray="11 6"/>
<path d="M1127.4 1224.4L1127.4 1306.3" stroke="#b4b4b4" stroke-width="0.9" fill="none" stroke-dasharray="11 6"/>
<path d="M984.6 1306.3L1127.4 1306.3" stroke="#b4b4b4" stroke-width="0.9" fill="none" stroke-dasharray="11 6"/>
<rect x="593.4" y="189.3" width="3.3" height="167.7" fill="none" stroke="#858585" stroke-width="0.7"/>
<rect x="504.7" y="285.6" width="88.7" height="3" fill="none" stroke="#858585" stroke-width="0.7"/>
<rect x="504.7" y="288.6" width="2.9" height="197" fill="none" stroke="#858585" stroke-width="0.7"/>
<rect x="581" y="357.1" width="112.6" height="2.9" fill="none" stroke="#858585" stroke-width="0.7"/>
<rect x="581" y="360" width="3.4" height="118.5" fill="none" stroke="#858585" stroke-width="0.7"/>
<rect x="690.7" y="360" width="2.9" height="89.1" fill="none" stroke="#858585" stroke-width="0.7"/>
<path d="M690.7 473.6L666.2 473.6L666.2 475.4L690.7 475.4Z" stroke="#858585" stroke-width="0.7" fill="none"/>
<path d="M666.2 473.6A24.5 24.5 0 0 1 690.7 449.1" stroke="#858585" stroke-width="0.7" fill="none"/>
<rect x="690.7" y="473.6" width="2.9" height="4.9" fill="none" stroke="#858585" stroke-width="0.7"/>
<rect x="693.6" y="415.4" width="74.4" height="3" fill="none" stroke="#858585" stroke-width="0.7"/>
<rect x="768" y="358" width="93.4" height="3" fill="none" stroke="#858585" stroke-width="0.7"/>
<rect x="768" y="361" width="3" height="136" fill="none" stroke="#858585" stroke-width="0.7"/>
<rect x="858.5" y="361" width="2.9" height="49" fill="none" stroke="#858585" stroke-width="0.7"/>
<rect x="858.5" y="442.3" width="2.9" height="54.7" fill="none" stroke="#858585" stroke-width="0.7"/>
<rect x="795.4" y="479.7" width="46" height="15.6" fill="none" stroke="#858585" stroke-width="0.7"/>
<rect x="797.5" y="481.5" width="10.5" height="11.5" fill="none" stroke="#858585" stroke-width="0.7"/>
<path d="M808 487L861 487" stroke="#858585" stroke-width="0.7" fill="none" stroke-dasharray="4 2"/>
<rect x="675" y="189.3" width="3" height="131.6" fill="none" stroke="#858585" stroke-width="0.7"/>
<rect x="675" y="317.9" width="55.4" height="3" fill="none" stroke="#858585" stroke-width="0.7"/>
<path d="M754.3 317.9L754.3 294L756.1 294L756.1 317.9Z" stroke="#858585" stroke-width="0.7" fill="none"/>
<path d="M754.3 294A23.9 23.9 0 0 0 730.4 317.9" stroke="#858585" stroke-width="0.7" fill="none"/>
<rect x="757.3" y="208.7" width="3.3" height="112.2" fill="none" stroke="#858585" stroke-width="0.7"/>
<rect x="754.3" y="317.9" width="8.8" height="3" fill="none" stroke="#858585" stroke-width="0.7"/>
<path d="M763.1 317.9L763.1 293.4L761.3 293.4L761.3 317.9Z" stroke="#858585" stroke-width="0.7" fill="none"/>
<path d="M763.1 293.4A24.5 24.5 0 0 1 787.6 317.9" stroke="#858585" stroke-width="0.7" fill="none"/>
<rect x="787.6" y="317.9" width="58.7" height="3" fill="none" stroke="#858585" stroke-width="0.7"/>
<path d="M846.3 317.9L846.3 293.4L844.5 293.4L844.5 317.9Z" stroke="#858585" stroke-width="0.7" fill="none"/>
<path d="M846.3 293.4A24.5 24.5 0 0 1 870.8 317.9" stroke="#858585" stroke-width="0.7" fill="none"/>
<rect x="871.4" y="317.9" width="139.8" height="3" fill="none" stroke="#858585" stroke-width="0.7"/>
<rect x="1003.3" y="208.7" width="3.4" height="112.2" fill="none" stroke="#858585" stroke-width="0.7"/>
<path d="M1011.2 317.9L1011.2 293.4L1009.4 293.4L1009.4 317.9Z" stroke="#858585" stroke-width="0.7" fill="none"/>
<path d="M1011.2 293.4A24.5 24.5 0 0 1 1035.7 317.9" stroke="#858585" stroke-width="0.7" fill="none"/>
<rect x="1036" y="317.9" width="144.5" height="3" fill="none" stroke="#858585" stroke-width="0.7"/>
<rect x="1127.1" y="189.3" width="3.1" height="128.7" fill="none" stroke="#858585" stroke-width="0.7"/>
<path d="M1206 317.9L1206 292.7L1207.8 292.7L1207.8 317.9Z" stroke="#858585" stroke-width="0.7" fill="none"/>
<path d="M1206 292.7A25.2 25.2 0 0 0 1180.8 317.9" stroke="#858585" stroke-width="0.7" fill="none"/>
<rect x="1208.9" y="189.3" width="3" height="131.6" fill="none" stroke="#858585" stroke-width="0.7"/>
<rect x="1206" y="317.9" width="8.2" height="3" fill="none" stroke="#858585" stroke-width="0.7"/>
<path d="M1214.2 317.9L1214.2 293.4L1212.4 293.4L1212.4 317.9Z" stroke="#858585" stroke-width="0.7" fill="none"/>
<path d="M1214.2 293.4A24.5 24.5 0 0 1 1238.7 317.9" stroke="#858585" stroke-width="0.7" fill="none"/>
<rect x="1238.7" y="317.9" width="50.9" height="3" fill="none" stroke="#858585" stroke-width="0.7"/>
<rect x="897.2" y="358" width="84.6" height="3" fill="none" stroke="#858585" stroke-width="0.7"/>
<rect x="897.2" y="361" width="3" height="289" fill="none" stroke="#858585" stroke-width="0.7"/>
<rect x="1011.2" y="358" width="2.9" height="128" fill="none" stroke="#858585" stroke-width="0.7"/>
<rect x="1006.9" y="358" width="7.2" height="3" fill="none" stroke="#858585" stroke-width="0.7"/>
<path d="M1006.9 361L1006.9 385.5L1008.7 385.5L1008.7 361Z" stroke="#858585" stroke-width="0.7" fill="none"/>
<path d="M1006.9 385.5A24.5 24.5 0 0 1 982.4 361" stroke="#858585" stroke-width="0.7" fill="none"/>
<rect x="900.2" y="441.3" width="111" height="2.9" fill="none" stroke="#858585" stroke-width="0.7"/>
<rect x="900.2" y="485.6" width="23.3" height="2.9" fill="none" stroke="#858585" stroke-width="0.7"/>
<path d="M924.4 488.5L924.4 512.5L922.6 512.5L922.6 488.5Z" stroke="#858585" stroke-width="0.7" fill="none"/>
<path d="M924.4 512.5A24 24 0 0 0 948.4 488.5" stroke="#858585" stroke-width="0.7" fill="none"/>
<rect x="948.5" y="485.6" width="47" height="2.9" fill="none" stroke="#858585" stroke-width="0.7"/>
<path d="M916.2 488.5L916.2 536.5L1013.1 536.5L1013.1 553.1" stroke="#858585" stroke-width="0.7" fill="none"/>
<path d="M918.8 488.5L918.8 534L1010.5 534" stroke="#858585" stroke-width="0.7" fill="none"/>
<path d="M900.2 544.7L1010 544.7" stroke="#858585" stroke-width="0.7" fill="none" stroke-dasharray="5 3"/>
<path d="M900.2 553.1L1010.2 553.1L1055.8 578.4L1055.8 621" stroke="#858585" stroke-width="0.7" fill="none"/>
<path d="M900.2 555.9L1009.4 555.9L1058.6 581L1058.6 621L1055.8 621" stroke="#858585" stroke-width="0.7" fill="none"/>
<path d="M1057.2 645.1L1032.7 645.1L1032.7 646.9L1057.2 646.9Z" stroke="#858585" stroke-width="0.7" fill="none"/>
<path d="M1032.7 645.1A24.5 24.5 0 0 1 1057.2 620.6" stroke="#858585" stroke-width="0.7" fill="none"/>
<rect x="1055.5" y="645.1" width="3.1" height="4.9" fill="none" stroke="#858585" stroke-width="0.7"/>
<path d="M890.8 650L890.8 624.6L897.2 624.6" stroke="#858585" stroke-width="0.7" fill="none"/>
<path d="M893 650L893 627L897.2 627" stroke="#858585" stroke-width="0.7" fill="none"/>
<path d="M868 624.6A26 26 0 0 0 890 650" stroke="#858585" stroke-width="0.7" fill="none"/>
<path d="M866 624.6L870 624.6" stroke="#858585" stroke-width="0.7" fill="none"/>
<rect x="1166.8" y="362.6" width="132.2" height="287.4" fill="none" stroke="#858585" stroke-width="0.7"/>
<rect x="1169.6" y="364.9" width="126.2" height="285.1" fill="none" stroke="#b5b5b5" stroke-width="0.7"/>
<rect x="1166.8" y="485.2" width="98.9" height="2.9" fill="#fff" stroke="#a0a0a0" stroke-width="0.7"/>
<rect x="1289" y="485.2" width="7" height="2.9" fill="#fff" stroke="#a0a0a0" stroke-width="0.7"/>
<rect x="1289.6" y="189.3" width="2.9" height="173.7" fill="none" stroke="#858585" stroke-width="0.7"/>
<rect x="1453.1" y="189.3" width="3.3" height="296.7" fill="none" stroke="#858585" stroke-width="0.7"/>
<path d="M1358.1 649L1358.1 624.5L1359.9 624.5L1359.9 649Z" stroke="#858585" stroke-width="0.7" fill="none"/>
<path d="M1358.1 624.5A24.5 24.5 0 0 0 1333.6 649" stroke="#858585" stroke-width="0.7" fill="none"/>
<rect x="1358.1" y="646" width="6.9" height="3.5" fill="none" stroke="#858585" stroke-width="0.7"/>
<rect x="1456.4" y="300.3" width="76" height="2.9" fill="none" stroke="#858585" stroke-width="0.7"/>
<path d="M1532.4 303.2L1532.4 309.1L1535.3 309.1L1535.3 303.2" stroke="#858585" stroke-width="0.7" fill="none"/>
<rect x="1535.3" y="300.3" width="54.8" height="2.9" fill="none" stroke="#858585" stroke-width="0.7"/>
<path d="M1615.6 301.3L1615.6 275.8L1617.4 275.8L1617.4 301.3Z" stroke="#858585" stroke-width="0.7" fill="none"/>
<path d="M1615.6 275.8A25.5 25.5 0 0 0 1590.1 301.3" stroke="#858585" stroke-width="0.7" fill="none"/>
<rect x="1617.5" y="189.3" width="3" height="142.3" fill="none" stroke="#858585" stroke-width="0.7"/>
<path d="M1619.1 357.1L1644.7 357.1L1644.7 358.9L1619.1 358.9Z" stroke="#858585" stroke-width="0.7" fill="none"/>
<path d="M1644.7 357.1A25.6 25.6 0 0 0 1619.1 331.5" stroke="#858585" stroke-width="0.7" fill="none"/>
<rect x="1617.5" y="357.1" width="3" height="96.9" fill="none" stroke="#858585" stroke-width="0.7"/>
<rect x="1620.5" y="362" width="132.5" height="3" fill="none" stroke="#858585" stroke-width="0.7"/>
<path d="M1535.3 309.1L1559.3 309.1L1559.3 307.3L1535.3 307.3Z" stroke="#858585" stroke-width="0.7" fill="none"/>
<path d="M1559.3 309.1A24 24 0 0 1 1535.3 333.1" stroke="#858585" stroke-width="0.7" fill="none"/>
<path d="M1456.4 333.6L1532.4 333.6" stroke="#858585" stroke-width="0.7" fill="none" stroke-dasharray="5 3"/>
<rect x="1532.4" y="333.6" width="2.9" height="10.2" fill="none" stroke="#858585" stroke-width="0.7"/>
<rect x="1456.4" y="343.8" width="87.7" height="2.9" fill="none" stroke="#858585" stroke-width="0.7"/>
<path d="M1569.6 345.3L1569.6 370.8L1571.4 370.8L1571.4 345.3Z" stroke="#858585" stroke-width="0.7" fill="none"/>
<path d="M1569.6 370.8A25.5 25.5 0 0 1 1544.1 345.3" stroke="#858585" stroke-width="0.7" fill="none"/>
<rect x="1569.6" y="343.8" width="7.8" height="2.9" fill="none" stroke="#858585" stroke-width="0.7"/>
<rect x="1574.5" y="346.7" width="2.9" height="107.3" fill="none" stroke="#858585" stroke-width="0.7"/>
<path d="M1473.2 346.7L1473.2 387.4" stroke="#858585" stroke-width="0.7" fill="none"/>
<rect x="1456.4" y="387.4" width="118.1" height="3" fill="none" stroke="#858585" stroke-width="0.7"/>
<path d="M1575 479.5L1550.5 479.5L1550.5 481.3L1575 481.3Z" stroke="#858585" stroke-width="0.7" fill="none"/>
<path d="M1550.5 479.5A24.5 24.5 0 0 1 1575 455" stroke="#858585" stroke-width="0.7" fill="none"/>
<path d="M1619.1 479.5L1643.6 479.5L1643.6 481.3L1619.1 481.3Z" stroke="#858585" stroke-width="0.7" fill="none"/>
<path d="M1643.6 479.5A24.5 24.5 0 0 0 1619.1 455" stroke="#858585" stroke-width="0.7" fill="none"/>
<path d="M1575 489.5L1550.5 489.5L1550.5 487.7L1575 487.7Z" stroke="#858585" stroke-width="0.7" fill="none"/>
<path d="M1550.5 489.5A24.5 24.5 0 0 0 1575 514" stroke="#858585" stroke-width="0.7" fill="none"/>
<path d="M1619.1 489.5L1643.6 489.5L1643.6 487.7L1619.1 487.7Z" stroke="#858585" stroke-width="0.7" fill="none"/>
<path d="M1643.6 489.5A24.5 24.5 0 0 1 1619.1 514" stroke="#858585" stroke-width="0.7" fill="none"/>
<rect x="1574.5" y="479.5" width="2.9" height="10" fill="none" stroke="#858585" stroke-width="0.7"/>
<rect x="1617.5" y="479.5" width="3" height="10" fill="none" stroke="#858585" stroke-width="0.7"/>
<rect x="1504.6" y="485.6" width="45.9" height="2.9" fill="none" stroke="#858585" stroke-width="0.7"/>
<rect x="1644" y="484.6" width="89" height="3.9" fill="none" stroke="#858585" stroke-width="0.7"/>
<rect x="1620.5" y="566.8" width="132.5" height="3" fill="none" stroke="#858585" stroke-width="0.7"/>
<rect x="1617.5" y="515" width="3" height="105.5" fill="none" stroke="#858585" stroke-width="0.7"/>
<path d="M1619.1 645.1L1643.7 645.1L1643.7 646.9L1619.1 646.9Z" stroke="#858585" stroke-width="0.7" fill="none"/>
<path d="M1643.7 645.1A24.6 24.6 0 0 0 1619.1 620.5" stroke="#858585" stroke-width="0.7" fill="none"/>
<rect x="1617.5" y="647.3" width="135.5" height="4.7" fill="#a8a8a8" stroke="#858585" stroke-width="0.7"/>
<rect x="1574.5" y="515" width="2.9" height="137" fill="none" stroke="#858585" stroke-width="0.7"/>
<rect x="1504.6" y="649" width="72.8" height="3" fill="none" stroke="#858585" stroke-width="0.7"/>
<path d="M1504.6 633L1574.5 633" stroke="#858585" stroke-width="0.7" fill="none"/>
<path d="M1512.8 488.5L1512.8 641.2L1574.5 641.2" stroke="#858585" stroke-width="0.7" fill="none" stroke-dasharray="5 3"/>
<path d="M1430.5 657.9L1455 657.9L1455 656.1L1430.5 656.1Z" stroke="#858585" stroke-width="0.7" fill="none"/>
<path d="M1455 657.9A24.5 24.5 0 0 1 1430.5 682.4" stroke="#858585" stroke-width="0.7" fill="none"/>
<rect x="1430.5" y="699.4" width="190.5" height="3.2" fill="#a8a8a8" stroke="#858585" stroke-width="0.7"/>
<rect x="1617.5" y="652" width="3.5" height="47.4" fill="#b4b4b4" stroke="#858585" stroke-width="0.7"/>
<path d="M1752.7 186L1752.7 1094.6" stroke="#8a8a8a" stroke-width="0.8" fill="none"/>
<path d="M1755.7 186L1755.7 1094.6" stroke="#9a9a9a" stroke-width="0.7" fill="none"/>
<path d="M1759.4 183L1759.4 1094.6" stroke="#c4c4c4" stroke-width="0.8" fill="none"/>
<path d="M1151.2 699.2L1151.2 893" stroke="#989898" stroke-width="0.7" fill="none"/>
<path d="M1151.2 699.2L1430.5 699.2" stroke="#989898" stroke-width="0.7" fill="none"/>
<path d="M1153.8 702L1153.8 949" stroke="#858585" stroke-width="0.7" fill="none"/>
<path d="M1210.5 702.1L1210.5 718.4L1225.6 718.4L1225.6 702.1" stroke="#858585" stroke-width="0.7" fill="none"/>
<path d="M1210.5 702.1L1225.6 718.4" stroke="#858585" stroke-width="0.7" fill="none"/>
<path d="M1225.6 718.4L1176.2 718.4L1176.2 769.3L1225.6 769.3L1225.6 782" stroke="#858585" stroke-width="0.7" fill="none"/>
<path d="M1210.5 782L1210.5 769.3" stroke="#858585" stroke-width="0.7" fill="none"/>
<path d="M1210.5 782L1225.6 769.3" stroke="#858585" stroke-width="0.7" fill="none"/>
<rect x="1156.3" y="782" width="69.3" height="9.4" fill="none" stroke="#858585" stroke-width="0.7"/>
<path d="M1156.3 786.5L1225.6 786.5" stroke="#858585" stroke-width="0.7" fill="none"/>
<path d="M1190 782L1190 791.4" stroke="#858585" stroke-width="0.7" fill="none"/>
<rect x="1251.2" y="702" width="12.5" height="109.4" fill="none" stroke="#858585" stroke-width="0.7"/>
<rect x="1252.6" y="706" width="8.8" height="100.5" fill="none" stroke="#858585" stroke-width="0.7"/>
<path d="M1252.6 717.1L1261.4 717.1" stroke="#999" stroke-width="0.5" fill="none"/>
<path d="M1252.6 728.2L1261.4 728.2" stroke="#999" stroke-width="0.5" fill="none"/>
<path d="M1252.6 739.3L1261.4 739.3" stroke="#999" stroke-width="0.5" fill="none"/>
<path d="M1252.6 750.4L1261.4 750.4" stroke="#999" stroke-width="0.5" fill="none"/>
<path d="M1252.6 761.5L1261.4 761.5" stroke="#999" stroke-width="0.5" fill="none"/>
<path d="M1252.6 772.6L1261.4 772.6" stroke="#999" stroke-width="0.5" fill="none"/>
<path d="M1252.6 783.7L1261.4 783.7" stroke="#999" stroke-width="0.5" fill="none"/>
<path d="M1252.6 794.8L1261.4 794.8" stroke="#999" stroke-width="0.5" fill="none"/>
<rect x="1263.7" y="808.5" width="5.5" height="2.9" fill="none" stroke="#858585" stroke-width="0.7"/>
<rect x="1266.3" y="702" width="2.9" height="109.4" fill="none" stroke="#858585" stroke-width="0.7"/>
<path d="M1269.2 809.4L1269.2 784.4L1267.4 784.4L1267.4 809.4Z" stroke="#858585" stroke-width="0.7" fill="none"/>
<path d="M1269.2 784.4A25 25 0 0 1 1294.2 809.4" stroke="#858585" stroke-width="0.7" fill="none"/>
<rect x="1293.7" y="808.5" width="106.3" height="2.9" fill="none" stroke="#858585" stroke-width="0.7"/>
<rect x="1346.6" y="702" width="2.9" height="106.5" fill="none" stroke="#858585" stroke-width="0.7"/>
<path d="M1424.5 809.4L1424.5 784.4L1426.3 784.4L1426.3 809.4Z" stroke="#858585" stroke-width="0.7" fill="none"/>
<path d="M1424.5 784.4A25 25 0 0 0 1399.5 809.4" stroke="#858585" stroke-width="0.7" fill="none"/>
<rect x="1426.8" y="702" width="3" height="109.4" fill="none" stroke="#858585" stroke-width="0.7"/>
<rect x="1424.5" y="808.5" width="8.6" height="2.9" fill="none" stroke="#858585" stroke-width="0.7"/>
<path d="M1433.1 809.4L1433.1 784.4L1431.3 784.4L1431.3 809.4Z" stroke="#858585" stroke-width="0.7" fill="none"/>
<path d="M1433.1 784.4A25 25 0 0 1 1458.1 809.4" stroke="#858585" stroke-width="0.7" fill="none"/>
<rect x="1458.2" y="808.5" width="44" height="2.9" fill="none" stroke="#858585" stroke-width="0.7"/>
<rect x="1520.1" y="702.7" width="16.3" height="106.3" fill="none" stroke="#858585" stroke-width="0.7"/>
<path d="M1525.5 702.7L1525.5 809" stroke="#999" stroke-width="0.5" fill="none"/>
<path d="M1531 702.7L1531 809" stroke="#999" stroke-width="0.5" fill="none"/>
<rect x="1539.3" y="702.7" width="20" height="49" fill="none" stroke="#aaa" stroke-width="0.7"/>
<path d="M1549.3 702.7L1549.3 751.7" stroke="#aaa" stroke-width="0.5" fill="none"/>
<rect x="1521.5" y="722.3" width="12.3" height="21" fill="none" stroke="#666" stroke-width="0.6"/>
<path d="M1521.5 732.8L1533.8 732.8" stroke="#666" stroke-width="0.6" fill="none"/>
<rect x="1502.5" y="792.8" width="17.6" height="16.2" fill="none" stroke="#aaa" stroke-width="0.7"/>
<rect x="1536.4" y="751.7" width="2.9" height="57.3" fill="none" stroke="#858585" stroke-width="0.7"/>
<rect x="1502.2" y="808.5" width="57.1" height="2.9" fill="none" stroke="#858585" stroke-width="0.7"/>
<rect x="1251.2" y="852.1" width="92.4" height="2.9" fill="none" stroke="#858585" stroke-width="0.7"/>
<rect x="1251.2" y="855" width="2.9" height="73.5" fill="none" stroke="#858585" stroke-width="0.7"/>
<path d="M1367.7 855L1367.7 879.5L1369.5 879.5L1369.5 855Z" stroke="#858585" stroke-width="0.7" fill="none"/>
<path d="M1367.7 879.5A24.5 24.5 0 0 1 1343.2 855" stroke="#858585" stroke-width="0.7" fill="none"/>
<rect x="1367.7" y="852.1" width="7.3" height="2.9" fill="none" stroke="#858585" stroke-width="0.7"/>
<rect x="1372" y="855" width="3" height="94" fill="none" stroke="#858585" stroke-width="0.7"/>
<rect x="1375" y="852.1" width="90" height="2.9" fill="none" stroke="#858585" stroke-width="0.7"/>
<path d="M1489.5 855L1489.5 879.5L1491.3 879.5L1491.3 855Z" stroke="#858585" stroke-width="0.7" fill="none"/>
<path d="M1489.5 879.5A24.5 24.5 0 0 1 1465 855" stroke="#858585" stroke-width="0.7" fill="none"/>
<rect x="1489.5" y="852.1" width="13" height="2.9" fill="none" stroke="#858585" stroke-width="0.7"/>
<rect x="1494.9" y="855" width="2.9" height="73.5" fill="none" stroke="#858585" stroke-width="0.7"/>
<path d="M1502.5 855L1502.5 879.5L1500.7 879.5L1500.7 855Z" stroke="#858585" stroke-width="0.7" fill="none"/>
<path d="M1502.5 879.5A24.5 24.5 0 0 0 1527 855" stroke="#858585" stroke-width="0.7" fill="none"/>
<rect x="1527" y="852.1" width="94" height="2.9" fill="none" stroke="#858585" stroke-width="0.7"/>
<rect x="1617.5" y="702.6" width="3" height="0.7" fill="none" stroke="#858585" stroke-width="0.7"/>
<path d="M1619.4 728.8L1645 728.8L1645 730.6L1619.4 730.6Z" stroke="#858585" stroke-width="0.7" fill="none"/>
<path d="M1645 728.8A25.6 25.6 0 0 0 1619.4 703.2" stroke="#858585" stroke-width="0.7" fill="none"/>
<rect x="1617.5" y="728.8" width="3" height="54.2" fill="none" stroke="#858585" stroke-width="0.7"/>
<rect x="1620.5" y="731.1" width="132.5" height="3" fill="none" stroke="#858585" stroke-width="0.7"/>
<path d="M1619.4 807.5L1645 807.5L1645 809.3L1619.4 809.3Z" stroke="#858585" stroke-width="0.7" fill="none"/>
<path d="M1645 807.5A25.6 25.6 0 0 0 1619.4 781.9" stroke="#858585" stroke-width="0.7" fill="none"/>
<rect x="1620.5" y="813.3" width="132.5" height="3" fill="none" stroke="#858585" stroke-width="0.7"/>
<rect x="1617.5" y="807.5" width="3" height="18.6" fill="none" stroke="#858585" stroke-width="0.7"/>
<path d="M1619.4 826.1L1645 826.1L1645 824.3L1619.4 824.3Z" stroke="#858585" stroke-width="0.7" fill="none"/>
<path d="M1645 826.1A25.6 25.6 0 0 1 1619.4 851.7" stroke="#858585" stroke-width="0.7" fill="none"/>
<rect x="1617.5" y="855" width="3" height="95" fill="none" stroke="#858585" stroke-width="0.7"/>
<path d="M1165.5 893.6L1141 893.6L1141 893.6L1165.5 893.6Z" stroke="#cfcfcf" stroke-width="0.8" fill="none"/>
<path d="M1141 893.6A24.5 24.5 0 0 0 1165.5 918.1" stroke="#cfcfcf" stroke-width="0.8" fill="none"/>
<path d="M1165.5 940.6L1141 940.6L1141 940.6L1165.5 940.6Z" stroke="#cfcfcf" stroke-width="0.8" fill="none"/>
<path d="M1141 940.6A24.5 24.5 0 0 1 1165.5 916.1" stroke="#cfcfcf" stroke-width="0.8" fill="none"/>
<rect x="1153.8" y="888" width="13.7" height="8.5" fill="none" stroke="#858585" stroke-width="0.7"/>
<rect x="1153.8" y="940.5" width="13.7" height="8.5" fill="none" stroke="#858585" stroke-width="0.7"/>
<path d="M250.1 182.6L1759.4 182.6" stroke="#c4c4c4" stroke-width="0.9" fill="none"/>
<path d="M255.3 187.2L1755.7 187.2" stroke="#7c7c7c" stroke-width="0.8" fill="none"/>
<path d="M257.3 189.4L1752.7 189.4" stroke="#9a9a9a" stroke-width="0.7" fill="none"/>
<path d="M250.1 182.6L250.1 1094.6" stroke="#b0b0b0" stroke-width="0.9" fill="none"/>
<path d="M255.3 187.2L255.3 1094.6" stroke="#8a8a8a" stroke-width="0.8" fill="none"/>
<path d="M257.3 189.4L257.3 1058" stroke="#b0b0b0" stroke-width="0.6" fill="none"/>
<rect x="373.9" y="948.5" width="729.2" height="3" fill="#e9e9e9" stroke="#8a8a8a" stroke-width="0.6"/>
<rect x="1152.3" y="948.5" width="467.1" height="3" fill="#e9e9e9" stroke="#8a8a8a" stroke-width="0.6"/>
<path d="M388.6 949.9L263.6 1058.3L265.6 1060.5L390.6 952.1Z" stroke="#9a9a9a" stroke-width="0.6" fill="#e8e8e8"/>
<path d="M357.2 976.8L359.5 979.4" stroke="#111" stroke-width="1.6"/>
<path d="M326 1003.9L328.2 1006.5" stroke="#111" stroke-width="1.6"/>
<path d="M294.7 1031L297 1033.6" stroke="#111" stroke-width="1.6"/>
<path d="M1617.8 952.1L1743.6 1060.5L1745.6 1058.3L1619.8 949.9Z" stroke="#9a9a9a" stroke-width="0.6" fill="#e8e8e8"/>
<path d="M1649.1 979.4L1651.4 976.8" stroke="#111" stroke-width="1.6"/>
<path d="M1680.6 1006.5L1682.8 1003.9" stroke="#111" stroke-width="1.6"/>
<path d="M1712 1033.6L1714.3 1031" stroke="#111" stroke-width="1.6"/>
<rect x="250.3" y="1058.3" width="12.9" height="3.7" fill="#1a1a1a"/>
<rect x="1745.8" y="1058.3" width="13.6" height="3.7" fill="#1a1a1a"/>
<rect x="389.3" y="948.2" width="1.8" height="3.6" fill="#111"/>
<rect x="430.3" y="948.2" width="1.8" height="3.6" fill="#111"/>
<rect x="471.2" y="948.2" width="1.8" height="3.6" fill="#111"/>
<rect x="512.2" y="948.2" width="1.8" height="3.6" fill="#111"/>
<rect x="553.2" y="948.2" width="1.8" height="3.6" fill="#111"/>
<rect x="594.1" y="948.2" width="1.8" height="3.6" fill="#111"/>
<rect x="635.1" y="948.2" width="1.8" height="3.6" fill="#111"/>
<rect x="676.1" y="948.2" width="1.8" height="3.6" fill="#111"/>
<rect x="717.1" y="948.2" width="1.8" height="3.6" fill="#111"/>
<rect x="758" y="948.2" width="1.8" height="3.6" fill="#111"/>
<rect x="799" y="948.2" width="1.8" height="3.6" fill="#111"/>
<rect x="840" y="948.2" width="1.8" height="3.6" fill="#111"/>
<rect x="880.9" y="948.2" width="1.8" height="3.6" fill="#111"/>
<rect x="921.9" y="948.2" width="1.8" height="3.6" fill="#111"/>
<rect x="962.9" y="948.2" width="1.8" height="3.6" fill="#111"/>
<rect x="1003.9" y="948.2" width="1.8" height="3.6" fill="#111"/>
<rect x="1044.8" y="948.2" width="1.8" height="3.6" fill="#111"/>
<rect x="1085.8" y="948.2" width="1.8" height="3.6" fill="#111"/>
<rect x="1167.7" y="948.2" width="1.8" height="3.6" fill="#111"/>
<rect x="1208.7" y="948.2" width="1.8" height="3.6" fill="#111"/>
<rect x="1249.7" y="948.2" width="1.8" height="3.6" fill="#111"/>
<rect x="1290.6" y="948.2" width="1.8" height="3.6" fill="#111"/>
<rect x="1331.6" y="948.2" width="1.8" height="3.6" fill="#111"/>
<rect x="1372.6" y="948.2" width="1.8" height="3.6" fill="#111"/>
<rect x="1413.5" y="948.2" width="1.8" height="3.6" fill="#111"/>
<rect x="1454.5" y="948.2" width="1.8" height="3.6" fill="#111"/>
<rect x="1495.5" y="948.2" width="1.8" height="3.6" fill="#111"/>
<rect x="1536.5" y="948.2" width="1.8" height="3.6" fill="#111"/>
<rect x="1577.4" y="948.2" width="1.8" height="3.6" fill="#111"/>
<rect x="1618.4" y="948.2" width="1.8" height="3.6" fill="#111"/>
<rect x="257.9" y="190.5" width="18.5" height="18.4" fill="#050505"/>
<rect x="257.9" y="928.8" width="18.5" height="18.4" fill="#050505"/>
<rect x="503.8" y="190.5" width="18.5" height="18.4" fill="#050505"/>
<rect x="503.8" y="928.8" width="18.5" height="18.4" fill="#050505"/>
<rect x="749.6" y="190.5" width="18.5" height="18.4" fill="#050505"/>
<rect x="749.6" y="928.8" width="18.5" height="18.4" fill="#050505"/>
<rect x="995.5" y="190.5" width="18.5" height="18.4" fill="#050505"/>
<rect x="995.5" y="928.8" width="18.5" height="18.4" fill="#050505"/>
<rect x="1241.2" y="190.5" width="18.5" height="18.4" fill="#050505"/>
<rect x="1241.2" y="928.8" width="18.5" height="18.4" fill="#050505"/>
<rect x="1487.2" y="190.5" width="18.5" height="18.4" fill="#050505"/>
<rect x="1487.2" y="928.8" width="18.5" height="18.4" fill="#050505"/>
<rect x="1733.2" y="190.5" width="18.5" height="18.4" fill="#050505"/>
<rect x="1733.2" y="928.8" width="18.5" height="18.4" fill="#050505"/>
<rect x="257.9" y="477.6" width="18.5" height="18.4" fill="#050505"/>
<rect x="1733.2" y="477.6" width="18.5" height="18.4" fill="#050505"/>
<rect x="257.9" y="641.7" width="18.5" height="18.4" fill="#050505"/>
<rect x="1733.2" y="641.7" width="18.5" height="18.4" fill="#050505"/>
<rect x="749.6" y="485.7" width="18.5" height="18.4" fill="#050505"/>
<rect x="749.6" y="633.8" width="18.5" height="18.4" fill="#050505"/>
<rect x="995.5" y="485.7" width="18.5" height="18.4" fill="#050505"/>
<rect x="995.5" y="633.8" width="18.5" height="18.4" fill="#050505"/>
<rect x="1241.2" y="485.7" width="18.5" height="18.4" fill="#050505"/>
<rect x="1241.2" y="633.8" width="18.5" height="18.4" fill="#050505"/>
<rect x="266.2" y="182.8" width="2" height="4.8" fill="#111"/>
<rect x="307.2" y="182.8" width="2" height="4.8" fill="#111"/>
<rect x="348.1" y="182.8" width="2" height="4.8" fill="#111"/>
<rect x="389.1" y="182.8" width="2" height="4.8" fill="#111"/>
<rect x="430.1" y="182.8" width="2" height="4.8" fill="#111"/>
<rect x="471.1" y="182.8" width="2" height="4.8" fill="#111"/>
<rect x="512" y="182.8" width="2" height="4.8" fill="#111"/>
<rect x="553" y="182.8" width="2" height="4.8" fill="#111"/>
<rect x="594" y="182.8" width="2" height="4.8" fill="#111"/>
<rect x="635" y="182.8" width="2" height="4.8" fill="#111"/>
<rect x="676" y="182.8" width="2" height="4.8" fill="#111"/>
<rect x="716.9" y="182.8" width="2" height="4.8" fill="#111"/>
<rect x="757.9" y="182.8" width="2" height="4.8" fill="#111"/>
<rect x="798.9" y="182.8" width="2" height="4.8" fill="#111"/>
<rect x="839.8" y="182.8" width="2" height="4.8" fill="#111"/>
<rect x="880.8" y="182.8" width="2" height="4.8" fill="#111"/>
<rect x="921.8" y="182.8" width="2" height="4.8" fill="#111"/>
<rect x="962.8" y="182.8" width="2" height="4.8" fill="#111"/>
<rect x="1003.8" y="182.8" width="2" height="4.8" fill="#111"/>
<rect x="1044.7" y="182.8" width="2" height="4.8" fill="#111"/>
<rect x="1085.7" y="182.8" width="2" height="4.8" fill="#111"/>
<rect x="1126.7" y="182.8" width="2" height="4.8" fill="#111"/>
<rect x="1167.7" y="182.8" width="2" height="4.8" fill="#111"/>
<rect x="1208.6" y="182.8" width="2" height="4.8" fill="#111"/>
<rect x="1249.6" y="182.8" width="2" height="4.8" fill="#111"/>
<rect x="1290.6" y="182.8" width="2" height="4.8" fill="#111"/>
<rect x="1331.6" y="182.8" width="2" height="4.8" fill="#111"/>
<rect x="1372.5" y="182.8" width="2" height="4.8" fill="#111"/>
<rect x="1413.5" y="182.8" width="2" height="4.8" fill="#111"/>
<rect x="1454.5" y="182.8" width="2" height="4.8" fill="#111"/>
<rect x="1495.5" y="182.8" width="2" height="4.8" fill="#111"/>
<rect x="1536.4" y="182.8" width="2" height="4.8" fill="#111"/>
<rect x="1577.4" y="182.8" width="2" height="4.8" fill="#111"/>
<rect x="1618.4" y="182.8" width="2" height="4.8" fill="#111"/>
<rect x="1659.4" y="182.8" width="2" height="4.8" fill="#111"/>
<rect x="1700.3" y="182.8" width="2" height="4.8" fill="#111"/>
<rect x="1741.3" y="182.8" width="2" height="4.8" fill="#111"/>
<rect x="250.1" y="239.6" width="5.5" height="2" fill="#111"/>
<rect x="250.1" y="280.6" width="5.5" height="2" fill="#111"/>
<rect x="250.1" y="321.6" width="5.5" height="2" fill="#111"/>
<rect x="250.6" y="362.5" width="4.4" height="2.4" fill="none" stroke="#bbb" stroke-width="0.5"/>
<rect x="250.6" y="403.5" width="4.4" height="2.4" fill="none" stroke="#bbb" stroke-width="0.5"/>
<rect x="250.6" y="444.5" width="4.4" height="2.4" fill="none" stroke="#bbb" stroke-width="0.5"/>
<rect x="250.6" y="485.5" width="4.4" height="2.4" fill="none" stroke="#bbb" stroke-width="0.5"/>
<rect x="250.6" y="526.5" width="4.4" height="2.4" fill="none" stroke="#bbb" stroke-width="0.5"/>
<rect x="250.6" y="567.5" width="4.4" height="2.4" fill="none" stroke="#bbb" stroke-width="0.5"/>
<rect x="250.6" y="608.5" width="4.4" height="2.4" fill="none" stroke="#bbb" stroke-width="0.5"/>
<rect x="250.6" y="649.5" width="4.4" height="2.4" fill="none" stroke="#bbb" stroke-width="0.5"/>
<rect x="250.6" y="690.5" width="4.4" height="2.4" fill="none" stroke="#bbb" stroke-width="0.5"/>
<rect x="250.6" y="731.5" width="4.4" height="2.4" fill="none" stroke="#bbb" stroke-width="0.5"/>
<rect x="250.6" y="772.5" width="4.4" height="2.4" fill="none" stroke="#bbb" stroke-width="0.5"/>
<rect x="250.6" y="813.5" width="4.4" height="2.4" fill="none" stroke="#bbb" stroke-width="0.5"/>
<rect x="250.6" y="854.5" width="4.4" height="2.4" fill="none" stroke="#bbb" stroke-width="0.5"/>
<rect x="250.6" y="895.5" width="4.4" height="2.4" fill="none" stroke="#bbb" stroke-width="0.5"/>
<rect x="250.6" y="936.5" width="4.4" height="2.4" fill="none" stroke="#bbb" stroke-width="0.5"/>
<rect x="250.6" y="977.5" width="4.4" height="2.4" fill="none" stroke="#bbb" stroke-width="0.5"/>
<rect x="250.6" y="1018.5" width="4.4" height="2.4" fill="none" stroke="#bbb" stroke-width="0.5"/>
<rect x="250.6" y="1059.5" width="4.4" height="2.4" fill="none" stroke="#bbb" stroke-width="0.5"/>
<rect x="1753.5" y="198.7" width="6.1" height="2" fill="#111"/>
<rect x="1753.5" y="239.7" width="6.1" height="2" fill="#111"/>
<rect x="1753.5" y="280.7" width="6.1" height="2" fill="#111"/>
<rect x="1753.5" y="321.7" width="6.1" height="2" fill="#111"/>
<rect x="1753.5" y="362.7" width="6.1" height="2" fill="#111"/>
<rect x="1753.5" y="403.7" width="6.1" height="2" fill="#111"/>
<rect x="1753.5" y="485.8" width="6.1" height="2" fill="#111"/>
<rect x="1754.4" y="444.5" width="4.6" height="2.4" fill="none" stroke="#bbb" stroke-width="0.5"/>
<rect x="1754.4" y="526.5" width="4.6" height="2.4" fill="none" stroke="#bbb" stroke-width="0.5"/>
<rect x="1754.4" y="567.5" width="4.6" height="2.4" fill="none" stroke="#bbb" stroke-width="0.5"/>
<rect x="1754.4" y="608.5" width="4.6" height="2.4" fill="none" stroke="#bbb" stroke-width="0.5"/>
<rect x="1754.4" y="649.5" width="4.6" height="2.4" fill="none" stroke="#bbb" stroke-width="0.5"/>
<rect x="1754.4" y="690.5" width="4.6" height="2.4" fill="none" stroke="#bbb" stroke-width="0.5"/>
<rect x="1754.4" y="731.5" width="4.6" height="2.4" fill="none" stroke="#bbb" stroke-width="0.5"/>
<rect x="1754.4" y="772.5" width="4.6" height="2.4" fill="none" stroke="#bbb" stroke-width="0.5"/>
<rect x="1754.4" y="813.5" width="4.6" height="2.4" fill="none" stroke="#bbb" stroke-width="0.5"/>
<rect x="1754.4" y="854.5" width="4.6" height="2.4" fill="none" stroke="#bbb" stroke-width="0.5"/>
<rect x="1754.4" y="895.5" width="4.6" height="2.4" fill="none" stroke="#bbb" stroke-width="0.5"/>
<rect x="1754.4" y="936.5" width="4.6" height="2.4" fill="none" stroke="#bbb" stroke-width="0.5"/>
<rect x="1754.4" y="977.5" width="4.6" height="2.4" fill="none" stroke="#bbb" stroke-width="0.5"/>
<rect x="1754.4" y="1018.5" width="4.6" height="2.4" fill="none" stroke="#bbb" stroke-width="0.5"/>
<rect x="1754.4" y="1059.5" width="4.6" height="2.4" fill="none" stroke="#bbb" stroke-width="0.5"/>
<path d="M253.2 200L253.2 187.4L267.2 187.4" stroke="#111" stroke-width="1.2" fill="none"/>
<path d="M1742.4 186.8L1756 186.8L1756 200" stroke="#111" stroke-width="1.2" fill="none"/>
<path d="M178 128.2L561 128.2" stroke="#c6c6c6" stroke-width="1.0" fill="none"/>
<path d="M628.5 128.2L918 128.2" stroke="#c6c6c6" stroke-width="1.0" fill="none"/>
<path d="M1059.7 128.2L1257.3 128.2" stroke="#c6c6c6" stroke-width="1.0" fill="none"/>
<path d="M1325.3 128.2L1423 128.2" stroke="#c6c6c6" stroke-width="1.0" fill="none"/>
<path d="M1489.8 128.2L1823.5 128.2" stroke="#c6c6c6" stroke-width="1.0" fill="none"/>
<path d="M178 128.2L178 1116.6" stroke="#c6c6c6" stroke-width="1.0" fill="none"/>
<path d="M1823.5 128.2L1823.5 405.5" stroke="#c6c6c6" stroke-width="1.0" fill="none"/>
<path d="M1823.5 518.3L1823.5 617" stroke="#c6c6c6" stroke-width="1.0" fill="none"/>
<path d="M1823.5 684L1823.5 1116.6" stroke="#c6c6c6" stroke-width="1.0" fill="none"/>
<path d="M178 1116.6L517.7 1116.6" stroke="#c6c6c6" stroke-width="1.0" fill="none"/>
<path d="M652.4 1116.6L1052 1116.6" stroke="#c6c6c6" stroke-width="1.0" fill="none"/>
<path d="M1203.2 1116.6L1387.8 1116.6" stroke="#c6c6c6" stroke-width="1.0" fill="none"/>
<path d="M1525 1116.6L1823.5 1116.6" stroke="#c6c6c6" stroke-width="1.0" fill="none"/>
<path d="M595 104.3L595 167.1" stroke="#c6c6c6" stroke-width="1.0" fill="none"/>
<path d="M1291.5 104.3L1291.5 167.1" stroke="#c6c6c6" stroke-width="1.0" fill="none"/>
<path d="M1455.6 104.3L1455.6 167.1" stroke="#c6c6c6" stroke-width="1.0" fill="none"/>
<path d="M1778.2 650.2L1855.7 650.2" stroke="#c6c6c6" stroke-width="1.0" fill="none"/>
<path d="M561.4 119.3L595 128.2L561.4 137.1Z" fill="#0a0a0a"/>
<path d="M628.6 119.3L595 128.2L628.6 137.1Z" fill="#0a0a0a"/>
<path d="M1257.9 119.3L1291.5 128.2L1257.9 137.1Z" fill="#0a0a0a"/>
<path d="M1325.1 119.3L1291.5 128.2L1325.1 137.1Z" fill="#0a0a0a"/>
<path d="M1422.4 119.1L1456 128L1422.4 136.9Z" fill="#0a0a0a"/>
<path d="M1489.6 119.1L1456 128L1489.6 136.9Z" fill="#0a0a0a"/>
<path d="M1814.6 616.6L1832.6 616.6L1823.6 650.2Z" fill="#0a0a0a"/>
<path d="M1814.6 684.3L1832.6 684.3L1823.6 650.2Z" fill="#0a0a0a"/>
<path d="M1052 1108L1085.6 1116.9L1052 1125.9Z" fill="#0a0a0a"/>
<path d="M1203.2 1108L1169.8 1116.9L1203.2 1125.9Z" fill="#0a0a0a"/>
<text x="932" y="91.6" font-size="25" fill="#000" font-family="'Liberation Sans Narrow','Liberation Sans',sans-serif" textLength="112.7" lengthAdjust="spacingAndGlyphs">AVAILABLE</text>
<text x="934" y="119.8" font-size="25" fill="#000" font-family="'Liberation Sans Narrow','Liberation Sans',sans-serif" textLength="110.4" lengthAdjust="spacingAndGlyphs">SUITE 1111</text>
<text x="939.1" y="148.2" font-size="25" fill="#000" font-family="'Liberation Sans Narrow','Liberation Sans',sans-serif" textLength="99.8" lengthAdjust="spacingAndGlyphs">4,602 RSF</text>
<text x="1321.8" y="86.6" font-size="25" fill="#000" font-family="'Liberation Sans Narrow','Liberation Sans',sans-serif" textLength="112.6" lengthAdjust="spacingAndGlyphs">AVAILABLE</text>
<text x="1321.8" y="116.5" font-size="25" fill="#000" font-family="'Liberation Sans Narrow','Liberation Sans',sans-serif" textLength="112.9" lengthAdjust="spacingAndGlyphs">SUITE 1120</text>
<text x="1327.9" y="158.2" font-size="25" fill="#000" font-family="'Liberation Sans Narrow','Liberation Sans',sans-serif" textLength="96.8" lengthAdjust="spacingAndGlyphs">1,162 RSF</text>
<text x="1780.1" y="443.4" font-size="25" fill="#000" font-family="'Liberation Sans Narrow','Liberation Sans',sans-serif" textLength="112.6" lengthAdjust="spacingAndGlyphs">AVAILABLE</text>
<text x="1780.3" y="473.1" font-size="25" fill="#000" font-family="'Liberation Sans Narrow','Liberation Sans',sans-serif" textLength="112.7" lengthAdjust="spacingAndGlyphs">SUITE 1125</text>
<text x="1789.5" y="500" font-size="25" fill="#000" font-family="'Liberation Sans Narrow','Liberation Sans',sans-serif" textLength="98.8" lengthAdjust="spacingAndGlyphs">2,471 RSF</text>
<text x="1180.9" y="563.6" font-size="25" fill="#000" font-family="'Liberation Sans Narrow','Liberation Sans',sans-serif" textLength="104.1" lengthAdjust="spacingAndGlyphs">BLDG STG</text>
<text x="1192" y="593" font-size="25" fill="#000" font-family="'Liberation Sans Narrow','Liberation Sans',sans-serif" textLength="81.7" lengthAdjust="spacingAndGlyphs">660 RSF</text>
<text x="544.9" y="1105.1" font-size="25" fill="#000" font-family="'Liberation Sans Narrow','Liberation Sans',sans-serif" textLength="80.3" lengthAdjust="spacingAndGlyphs">LEASED</text>
<text x="529.4" y="1133.1" font-size="25" fill="#000" font-family="'Liberation Sans Narrow','Liberation Sans',sans-serif" textLength="112.9" lengthAdjust="spacingAndGlyphs">SUITE 1100</text>
<text x="1401.3" y="1087.7" font-size="25" fill="#000" font-family="'Liberation Sans Narrow','Liberation Sans',sans-serif" textLength="112.4" lengthAdjust="spacingAndGlyphs">AVAILABLE</text>
<text x="1401.3" y="1116.9" font-size="25" fill="#000" font-family="'Liberation Sans Narrow','Liberation Sans',sans-serif" textLength="112.8" lengthAdjust="spacingAndGlyphs">SUITE 1130</text>
<text x="1405.6" y="1144.7" font-size="25" fill="#000" font-family="'Liberation Sans Narrow','Liberation Sans',sans-serif" textLength="97.5" lengthAdjust="spacingAndGlyphs">3,157 RSF</text>
<circle cx="226.6" cy="1170.4" r="12.6" fill="none" stroke="#cfcfcf" stroke-width="0.8"/>
<path d="M226.6 1154L226.6 1187" stroke="#cfcfcf" stroke-width="0.7" fill="none"/>
<path d="M214 1170.4L246 1170.4" stroke="#cfcfcf" stroke-width="0.7" fill="none"/>
<path d="M234.2 1158.1L211.6 1170.4L233.8 1182.7" stroke="#000" stroke-width="1.7" fill="none"/>
<text x="232.4" y="1175.6" font-size="15" text-anchor="middle" fill="#111" font-weight="bold" font-family="Liberation Serif, sans-serif">N</text>
<text x="1717.8" y="1260.6" font-size="24" text-anchor="middle" fill="#000" font-weight="normal" font-family="Liberation Sans, sans-serif" textLength="81.5" lengthAdjust="spacingAndGlyphs">FLOOR</text>
<text x="1776" y="1275.1" font-size="107.6" fill="#0a0a0a" font-weight="bold" font-family="'Liberation Sans',sans-serif" textLength="193.7" lengthAdjust="spacingAndGlyphs">11E</text>
<g fill="none" stroke="#143a50" stroke-width="10.4">
<circle cx="88.75" cy="1386.85" r="18.15"/>
<circle cx="139.9" cy="1386.85" r="18.15"/>
<path d="M176 1388.8A19.6 19.6 0 0 1 195.6 1369.2"/>
<path d="M335.3 1388.8A19.6 19.6 0 0 1 354.9 1369.2"/>
<path d="M206.2 1353.1V1392.7A10.5 10.5 0 0 0 216.7 1403.2L224.3 1402.2" stroke-width="11.4"/>
<path d="M314.9 1396.7A16.6 18.15 0 1 1 317.55 1386.85"/>
<path d="M390.5 1375.3C388 1371 383.5 1368.7 377.3 1368.7C369.5 1368.7 364.6 1371.5 364.6 1376.2C364.6 1382.5 371 1384.5 377.3 1386.3C385 1388.5 390.9 1391 390.9 1397.3C390.9 1402.3 385.5 1405.1 377.3 1405.1C369.5 1405.1 364 1402 361.5 1396.4"/>
</g>
<g fill="#143a50">
<rect x="64.8" y="1365" width="11.3" height="61.7"/>
<rect x="152.7" y="1365" width="11.1" height="43.5"/>
<rect x="170.1" y="1365" width="11.1" height="43.5"/>
<rect x="200.5" y="1365" width="23.8" height="9.4"/>
<rect x="232.1" y="1365" width="11.2" height="43.5"/>
<path d="M243.2 1371C246 1366.5 251.5 1363.5 258 1363.5C267.5 1363.5 273.6 1370 273.6 1381V1408.5H262.5V1383.5C262.5 1377 259 1373.6 253.5 1373.6C247.5 1373.6 243.2 1378 243.2 1386Z"/>
<rect x="286" y="1383.3" width="36.8" height="7.8"/>
<rect x="329.4" y="1365" width="11.2" height="43.5"/>
</g>
<path d="M211.9 1365V1373.6H201Z" fill="#e8473f"/>
<text x="67.1" y="1458.9" font-size="20.3" text-anchor="start" fill="#c92f36" font-weight="normal" font-family="Liberation Sans, sans-serif" textLength="143.4" lengthAdjust="spacingAndGlyphs">WIN HAGGARD</text>
<text x="67.1" y="1484.3" font-size="20" text-anchor="start" fill="#26343f" font-weight="normal" font-family="Liberation Sans, sans-serif" textLength="121.1" lengthAdjust="spacingAndGlyphs" stroke="#fff" stroke-width="0.3">713.562.8131</text>
<text x="67.1" y="1509.7" font-size="20.5" text-anchor="start" fill="#26343f" font-weight="normal" font-family="Liberation Sans, sans-serif" textLength="335.9" lengthAdjust="spacingAndGlyphs" stroke="#fff" stroke-width="0.3">win.haggard@partnersrealestate.com</text>
<text x="440.2" y="1458.9" font-size="20.3" text-anchor="start" fill="#c92f36" font-weight="normal" font-family="Liberation Sans, sans-serif" textLength="149.2" lengthAdjust="spacingAndGlyphs">BRAD BEASLEY</text>
<text x="440.2" y="1484.3" font-size="20" text-anchor="start" fill="#26343f" font-weight="normal" font-family="Liberation Sans, sans-serif" textLength="117.1" lengthAdjust="spacingAndGlyphs" stroke="#fff" stroke-width="0.3">713.316.7029</text>
<text x="440.2" y="1509.7" font-size="20.5" text-anchor="start" fill="#26343f" font-weight="normal" font-family="Liberation Sans, sans-serif" textLength="340.6" lengthAdjust="spacingAndGlyphs" stroke="#fff" stroke-width="0.3">brad.beasley@partnersrealestate.com</text>
<defs><linearGradient id="ag" x1="0" y1="0" x2="0" y2="1"><stop offset="0" stop-color="#a083c4"/><stop offset="1" stop-color="#6b569c"/></linearGradient></defs>
<path d="M1084.3 1425.7L1061.6 1437.9L1028.6 1521.3L1046.2 1522.1Z" fill="url(#ag)"/>
<path d="M1069.2 1413.4L1084.3 1425.7L977.8 1480.8L982.5 1460.3Z" fill="#5d4c8d"/>
<path d="M1014.7 1469.4L1033.7 1473.7L1038.1 1495.7L1028.6 1521.3Z" fill="#b73a8f"/>
<text x="1079.9" y="1484.7" font-size="46" text-anchor="start" fill="#9c83c2" font-weight="normal" font-family="Liberation Sans, sans-serif" textLength="111.3" lengthAdjust="spacingAndGlyphs" stroke="#9c83c2" stroke-width="0.9">AMB</text>
<text x="1080.6" y="1508.9" font-size="23" text-anchor="start" fill="#403b5f" font-weight="normal" font-family="Liberation Sans, sans-serif" textLength="110" lengthAdjust="spacingAndGlyphs" stroke="#403b5f" stroke-width="0.3">architects</text>
<rect x="1827" y="1376.2" width="49.9" height="120.3" fill="#b9bccd"/>
<rect x="1851.5" y="1406.7" width="50.1" height="47.9" fill="#bcc6e0"/>
<rect x="1851.5" y="1406.7" width="25.4" height="47.9" fill="#9fa6c6"/>
<rect x="1840" y="1454.6" width="73.9" height="41.9" fill="#938680"/>
<path d="M1866 1462.6H1883.6L1873.6 1472.4C1881 1472.4 1884.8 1475.6 1884.8 1479.3C1884.8 1483.7 1880.5 1486.3 1875 1486.3C1870.5 1486.3 1866.8 1484.5 1864.6 1481.3" fill="none" stroke="#f6efe9" stroke-width="1.7" stroke-linejoin="round"/>
<text x="1757" y="1527.6" font-size="34" letter-spacing="8.4" fill="#3c3c3c" stroke="#fff" stroke-width="1" font-family="Liberation Sans, sans-serif">GALLERIA</text>
<text x="1788.2" y="1544.7" font-size="16" letter-spacing="3.2" fill="#454545" stroke="#fff" stroke-width="0.25" font-family="Liberation Sans, sans-serif">OFFICE CENTER</text>
</g>
</svg>
</body></html>
